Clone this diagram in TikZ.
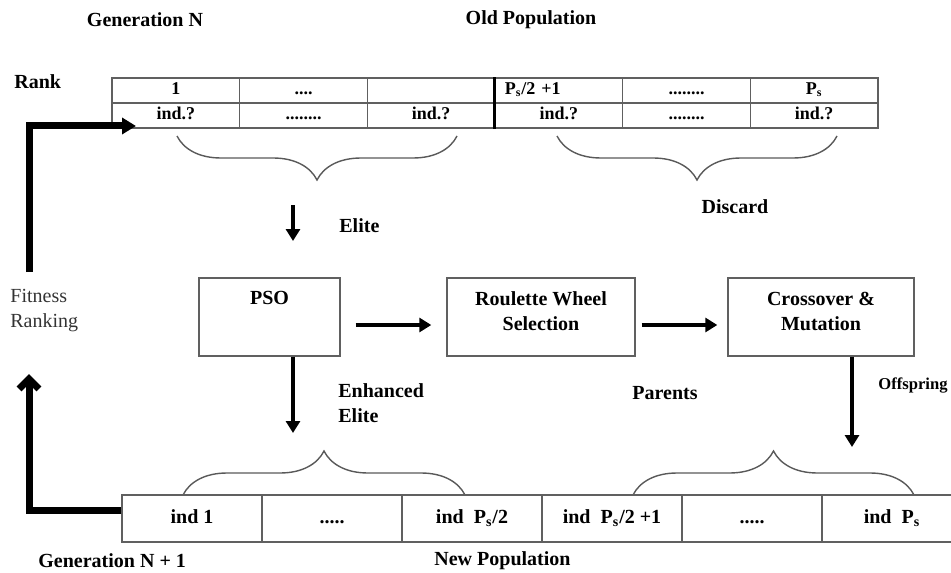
\documentclass[tikz,border=0pt]{standalone}
\usepackage{fontspec}
\setmainfont{Liberation Serif}
\usetikzlibrary{arrows.meta,decorations.pathreplacing}

\tikzset{
  cell/.style={draw=gray!75!black, line width=0.6pt, minimum width=63.8pt, minimum height=12.5pt, inner sep=0pt, text height=6.5pt, text depth=2pt, font=\bfseries\fontsize{9}{10}\selectfont},
  bigcell/.style={cell, minimum width=70pt, minimum height=23.5pt, text height=7pt, text depth=2pt, font=\bfseries\fontsize{10}{12}\selectfont},
  procbox/.style={draw=gray!75!black, line width=0.7pt, minimum height=39pt},
  boxtext/.style={anchor=north, align=center, inner sep=2pt, yshift=-5pt, font=\bfseries\fontsize{10}{12.5}\selectfont},
  lbl/.style={inner sep=1pt, font=\bfseries\fontsize{10}{12.5}\selectfont},
  flow/.style={line width=2pt, -{Triangle[length=6pt,width=7pt]}},
  fbline/.style={line width=3.5pt, line join=miter},
  brc/.style={decorate, decoration={brace, amplitude=22pt}, draw=gray!70!black, line width=0.7pt}
}

\begin{document}
\begin{tikzpicture}[x=0.5pt,y=-0.5pt]
\clip (0,0) rectangle (951,572);

% old population
\node[lbl] (genN) at (145,20) {Generation N};
\node[lbl] (oldpop) at (531,20) {Old Population};
\node[lbl, anchor=west] (rank) at (12,82) {Rank};

\node[cell] (r1) at (175.8,90.5) {1};
\node[cell] (r2) at (303.5,90.5) {....};
\node[cell] (r3) at (431.2,90.5) {};
\node[cell, text width=54pt, align=left] (r4) at (558.8,90.5) {P\textsubscript{s}/2 +1};
\node[cell] (r5) at (686.5,90.5) {........};
\node[cell] (r6) at (814.2,90.5) {P\textsubscript{s}};
\node[cell] (i1) at (175.8,115.5) {ind.?};
\node[cell] (i2) at (303.5,115.5) {........};
\node[cell] (i3) at (431.2,115.5) {ind.?};
\node[cell] (i4) at (558.8,115.5) {ind.?};
\node[cell] (i5) at (686.5,115.5) {........};
\node[cell] (i6) at (814.2,115.5) {ind.?};
\draw[line width=1.3pt] (r4.north west) -- (i4.south west);

\coordinate (eliteL) at (177,136);
\coordinate (eliteR) at (457,136);
\coordinate (discL) at (557,136);
\coordinate (discR) at (837,136);
\draw[brc] (eliteR) -- (eliteL);
\draw[brc] (discR) -- (discL);

\node[lbl, anchor=west] (elite) at (337,226) {Elite};
\node[lbl] (discard) at (735,207) {Discard};
\coordinate (eliteA) at (293,205);
\coordinate (eliteB) at (293,241);
\draw[flow] (eliteA) -- (eliteB);

% operators
\node[procbox, minimum width=70.5pt] (pso) at (269.5,317) {};
\node[procbox, minimum width=94pt] (roul) at (541,317) {};
\node[procbox, minimum width=93pt] (cross) at (821,317) {};
\node[boxtext] (psot) at (pso.north) {PSO};
\node[boxtext] (roult) at (roul.north) {Roulette Wheel\\Selection};
\node[boxtext] (crosst) at (cross.north) {Crossover \&\\Mutation};

\draw[flow, shorten <=7.5pt, shorten >=7.5pt] ([yshift=-4pt]pso.east) -- ([yshift=-4pt]roul.west);
\draw[flow, shorten <=3pt, shorten >=5pt] ([yshift=-4pt]roul.east) -- ([yshift=-4pt]cross.west);

\node[inner sep=1pt, anchor=west, align=left, text=black!80, font=\fontsize{10}{12.5}\selectfont] (fit) at (8,311) {Fitness\\Ranking};

\coordinate (enhB) at (293,433);
\coordinate (offB) at (852,447);
\draw[flow] ([xshift=11.75pt]pso.south) -- (enhB);
\draw[flow] ([xshift=15.5pt]cross.south) -- (offB);
\node[lbl, anchor=west, align=left] (enh) at (336,403) {Enhanced\\Elite};
\node[lbl, anchor=west] (parents) at (630,393) {Parents};
\node[lbl, anchor=west, font=\bfseries\fontsize{8.3}{10}\selectfont] (offs) at (876,385) {Offspring};

% new population
\coordinate (newL) at (183,495);
\coordinate (newR) at (465,495);
\coordinate (offL) at (633,495);
\coordinate (offR) at (914,495);
\draw[brc] (newL) -- (newR);
\draw[brc] (offL) -- (offR);

\node[bigcell] (n1) at (192,518.5) {ind 1};
\node[bigcell] (n2) at (332,518.5) {.....};
\node[bigcell] (n3) at (472,518.5) {ind~~P\textsubscript{s}/2};
\node[bigcell] (n4) at (612,518.5) {ind~~P\textsubscript{s}/2 +1};
\node[bigcell] (n5) at (752,518.5) {.....};
\node[bigcell] (n6) at (892,518.5) {ind~~P\textsubscript{s}};

\node[lbl, anchor=west] (genN1) at (36,561) {Generation N + 1};
\node[lbl, anchor=west] (newpop) at (432,561) {New Population};

% fitness ranking loop
\coordinate (fitTop) at (29,272);
\coordinate (fitIn) at (136,126);
\coordinate (fitUp) at (29,374);
\draw[fbline, -{Triangle[length=7pt,width=8pt]}] (fitTop) |- (fitIn);
\draw[fbline, -{Straight Barb[length=5pt,width=10pt]}] ([yshift=4.25pt]n1.west) -| (fitUp);
\end{tikzpicture}
\end{document}
